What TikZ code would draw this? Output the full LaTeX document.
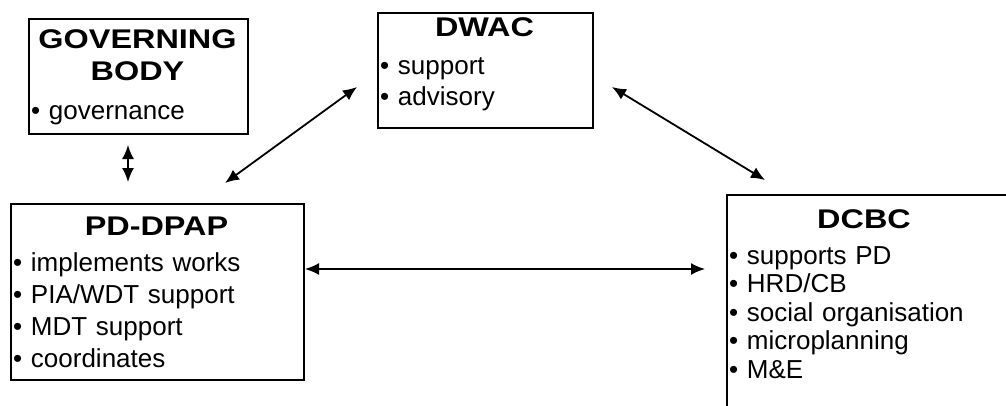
\documentclass[tikz,border=0pt]{standalone}
\usepackage{fontspec}
\setmainfont{Liberation Sans}
\newfontfamily\headfont{Liberation Sans}[FakeStretch=1.2]
\usetikzlibrary{arrows.meta,calc}

\tikzset{
  unitbox/.style={draw, line width=2pt, rectangle, anchor=north west, inner sep=0pt},
  unithead/.style={font=\headfont\bfseries\fontsize{27}{32}\selectfont,
    anchor=base, inner sep=0pt, align=center, text width=#1},
  unititems/.style={font=\fontsize{26}{#1}\selectfont,
    anchor=base west, inner sep=0pt, align=left, text width=290pt},
  link/.style={<->, line width=1.8pt}
}

\begin{document}
\begin{tikzpicture}[x=1pt,y=1pt,>={Latex[length=14pt,width=12pt]}]
  \useasboundingbox (0,0) rectangle (1006,405);
  \clip (0,0) rectangle (1006,405);
  % Unit: governing body
  \node[unitbox, minimum width=219pt, minimum height=115pt] (gb) at (28,387) {};
  \node[unithead=210pt] (gbHead) at (137.5,356) {GOVERNING\\BODY};
  \node[unititems=31pt] (gbList) at (31,285) {• governance};
  % Unit: DWAC
  \node[unitbox, minimum width=215pt, minimum height=115pt] (dwac) at (377,393) {};
  \node[unithead=200pt] (dwacHead) at (484.5,368) {DWAC};
  \node[unititems=31pt] (dwacList) at (380,330) {• support\\• advisory};
  % Unit: PD-DPAP
  \node[unitbox, minimum width=293pt, minimum height=176pt] (pd) at (10,202) {};
  \node[unithead=280pt] (pdHead) at (156.5,170) {PD-DPAP};
  \node[unititems=32pt] (pdList) at (13,134)
    {• implements works\\• PIA/WDT support\\• MDT support\\• coordinates};
  % Unit: DCBC
  \node[unitbox, minimum width=330pt, minimum height=240pt] (dcbc) at (726,211) {};
  \node[unithead=200pt] (dcbcHead) at (864,177) {DCBC};
  \node[unititems=28.5pt] (dcbcList) at (729,141)
    {• supports PD\\• HRD/CB\\• social organisation\\• microplanning\\• M\&E};
  % Links
  \draw[link] ([xshift=-10.5pt,yshift=-10pt]gb.south) -- ([xshift=-10.5pt,yshift=21pt]gb.south |- pd.north);
  \draw[link] ([shift={(67.5,20)}]pd.north) -- ([shift={(-20,-16.5)}]dwac.west);
  \draw[link] ([shift={(18,-16.5)}]dwac.east) -- ([shift={(39,14)}]dcbc.north west);
  \draw[link] ([yshift=23pt]pd.east) -- ([yshift=23pt,xshift=-21pt]pd.east -| dcbc.west);
\end{tikzpicture}
\end{document}
